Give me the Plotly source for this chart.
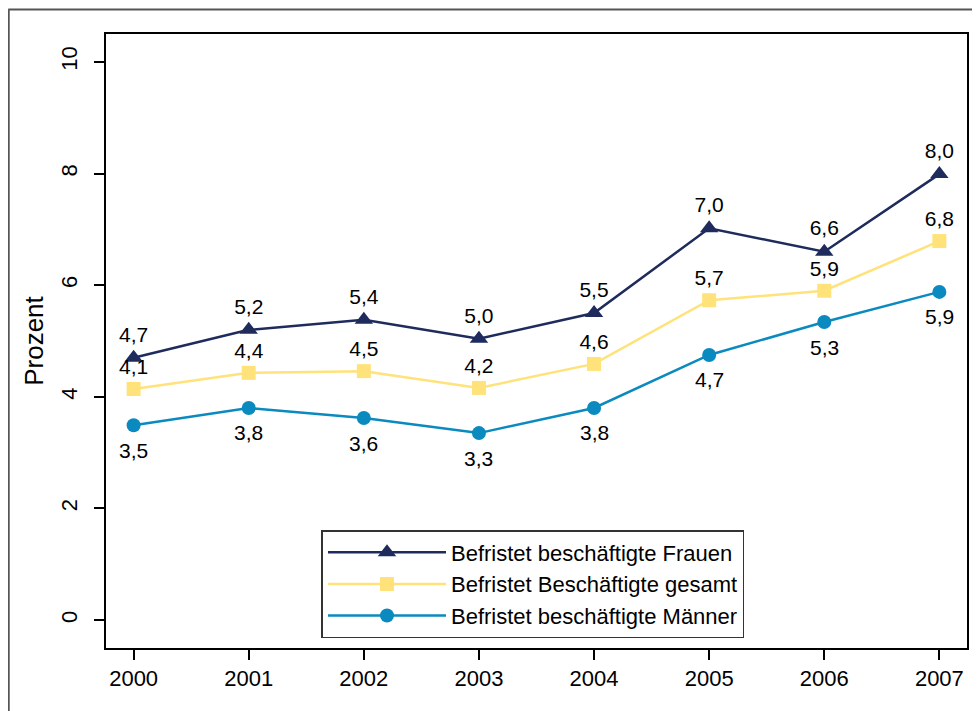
import plotly.graph_objects as go

years = [2000, 2001, 2002, 2003, 2004, 2005, 2006, 2007]

frauen = [4.70, 5.20, 5.38, 5.04, 5.50, 7.02, 6.60, 7.99]
gesamt = [4.14, 4.43, 4.46, 4.16, 4.59, 5.73, 5.90, 6.79]
maenner = [3.49, 3.80, 3.62, 3.35, 3.80, 4.75, 5.34, 5.88]

frauen_labels = ["4,7", "5,2", "5,4", "5,0", "5,5", "7,0", "6,6", "8,0"]
gesamt_labels = ["4,1", "4,4", "4,5", "4,2", "4,6", "5,7", "5,9", "6,8"]
maenner_labels = ["3,5", "3,8", "3,6", "3,3", "3,8", "4,7", "5,3", "5,9"]

y_ticks = [0, 2, 4, 6, 8, 10]

FONT = "Liberation Sans, Arial, sans-serif"

# page has an 8px body margin, figure sits at (8, 8)
W, H = 972, 703
ml, mr, mt, mb = 98, 11, 26, 63

fig = go.Figure()

fig.add_trace(go.Scatter(
    x=years, y=frauen, text=frauen_labels,
    mode="lines+markers+text", textposition="top center",
    name="Befristet beschäftigte Frauen",
    line=dict(color="#1e2b5c", width=2.5),
    marker=dict(symbol="triangle-up", size=16, color="#1e2b5c"),
    textfont=dict(size=21, color="black"),
))

fig.add_trace(go.Scatter(
    x=years, y=gesamt, text=gesamt_labels,
    mode="lines+markers+text", textposition="top center",
    name="Befristet Beschäftigte gesamt",
    line=dict(color="#ffe27a", width=2.5),
    marker=dict(symbol="square", size=14, color="#ffe27a"),
    textfont=dict(size=21, color="black"),
))

fig.add_trace(go.Scatter(
    x=years, y=maenner,
    mode="lines+markers",
    name="Befristet beschäftigte Männer",
    line=dict(color="#0a8abf", width=2.5),
    marker=dict(symbol="circle", size=14, color="#0a8abf"),
))

# Männer labels sit a bit further below the markers
for x, y, t in zip(years, maenner, maenner_labels):
    fig.add_annotation(x=x, y=y, text=t, showarrow=False,
                       yshift=-25, font=dict(size=21, color="black"))

# figure border (top and left visible)
fig.add_shape(type="line", xref="paper", yref="paper",
              x0=-ml / (W - ml - mr), y0=1 + (mt - 1.5) / (H - mt - mb),
              x1=1.2, y1=1 + (mt - 1.5) / (H - mt - mb),
              line=dict(color="#555555", width=2))
fig.add_shape(type="line", xref="paper", yref="paper",
              x0=(0.5 - ml) / (W - ml - mr), y0=1 + (mt - 1.5) / (H - mt - mb),
              x1=(0.5 - ml) / (W - ml - mr), y1=-0.2,
              line=dict(color="#555555", width=2))

fig.update_layout(
    width=W, height=H,
    margin=dict(l=ml, r=mr, t=mt, b=mb),
    paper_bgcolor="white",
    plot_bgcolor="white",
    font=dict(family=FONT, color="black", size=21),
    showlegend=True,
    legend=dict(
        x=(322 - 8 - ml) / (W - ml - mr), y=(H - mb - (530 - 8)) / (H - mt - mb),
        xanchor="left", yanchor="top",
        bgcolor="white", bordercolor="#333333", borderwidth=1.5,
        font=dict(size=22), itemwidth=118, tracegroupgap=0,
        entrywidth=420, entrywidthmode="pixels",
    ),
    xaxis=dict(
        range=[1999.76, 2007.24], tickvals=years,
        showgrid=False, zeroline=False,
        showline=True, linecolor="black", linewidth=2, mirror=True,
        ticks="outside", ticklen=10, tickwidth=1.5, tickcolor="black",
        tickfont=dict(size=22),
    ),
    yaxis=dict(
        range=[-0.5, 10.5], tickvals=y_ticks,
        showgrid=False, zeroline=False,
        showline=True, linecolor="black", linewidth=2, mirror=True,
        ticks="outside", ticklen=10, tickwidth=1.5, tickcolor="black",
        tickfont=dict(size=22), tickangle=-90, ticklabelstandoff=8,
        title=dict(text="Prozent", font=dict(size=26), standoff=6),
    ),
)

fig.write_html("out.html")
